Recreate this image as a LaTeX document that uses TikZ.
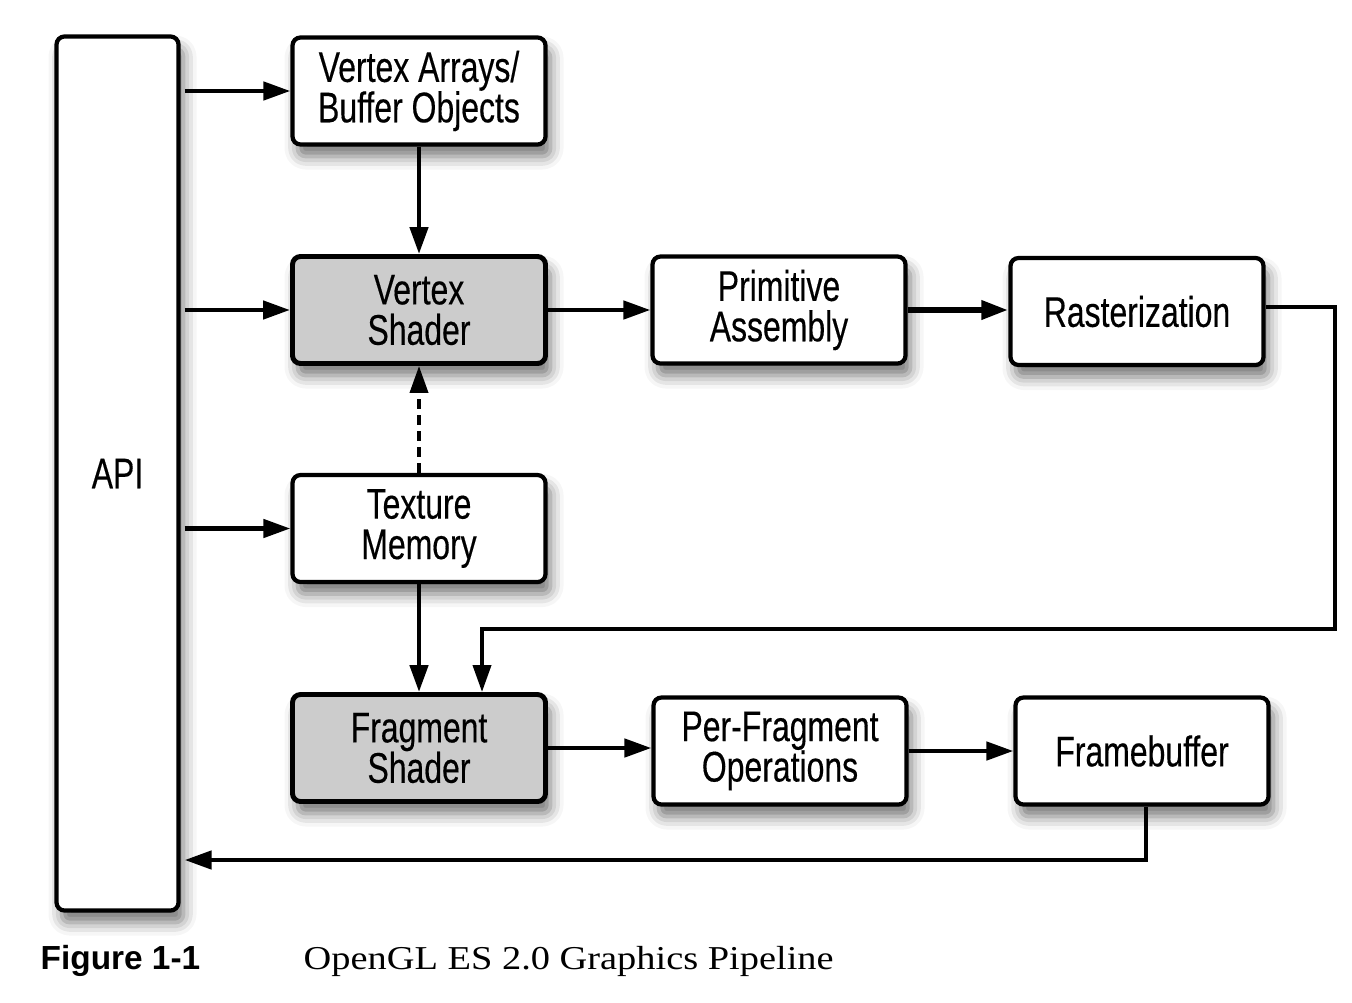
\documentclass[tikz,border=0pt]{standalone}
\usepackage{fontspec}
\setmainfont{Liberation Sans}
\newfontfamily\boxfont[FakeStretch=0.745, FakeBold=0.3]{Liberation Sans}
\newfontfamily\capfont[FakeStretch=1.15]{Liberation Serif}
\usetikzlibrary{arrows.meta,shadows.blur}

\tikzset{
	stage/.style={draw, line width=1.2pt, rounded corners=0.8mm, fill=white,
		minimum width=2.53cm, minimum height=1.07cm, align=center,
		font={\boxfont\fontsize{12.2pt}{11.5pt}\selectfont},
		blur shadow={shadow xshift=0.5mm, shadow yshift=-1.2mm, shadow blur radius=1.3mm, shadow opacity=55}},
	shader/.style={stage, fill=black!20, line width=1.4pt},
	arr/.style={line width=1.3pt, -{Triangle[length=2.7mm,width=1.8mm]}},
}

\begin{document}
\begin{tikzpicture}
		%%%%% START %%%%%
		\useasboundingbox (0, 0) rectangle (13.52, -10.02);
		
		\node[stage, minimum width=1.22cm, minimum height=8.74cm] (api) at (1.175, -4.735) {API};
		
		\node[stage] (va) at (4.19, -0.91) {Vertex Arrays/\\Buffer Objects};
		\node[shader] (vs) at (4.19, -3.10) {Vertex\\Shader};
		\node[stage] (tm) at (4.19, -5.285) {Texture\\Memory};
		\node[shader] (fs) at (4.19, -7.48) {Fragment\\Shader};
		
		\node[stage] (pa) at (7.79, -3.10) {Primitive\\Assembly};
		\node[stage] (rast) at (11.37, -3.115) {Rasterization};
		\node[stage] (pfo) at (7.80, -7.51) {Per-Fragment\\Operations};
		\node[stage] (fb) at (11.42, -7.51) {Framebuffer};
		
		\draw[arr, shorten <=0.4mm] (api.east |- va) -- (va);
		\draw[arr, shorten <=0.4mm] (api.east |- vs) -- (vs);
		\draw[arr, shorten <=0.4mm] (api.east |- tm) -- (tm);
		
		\draw[arr] (va) -- (vs);
		\draw[arr, line width=1.1pt, dash pattern=on 1mm off 0.6mm] (tm) -- (vs);
		\draw[arr] (tm) -- (fs);
		
		\draw[arr] (vs) -- (pa);
		\draw[arr, line width=1.8pt] (pa) -- (pa -| rast.west);
		\draw[arr] (fs) -- (fs -| pfo.west);
		\draw[arr] (pfo) -- (pfo -| fb.west);
		
		\coordinate (rastout) at (13.35, -6.29);
		\draw[arr, line width=1.1pt] ([yshift=0.045cm]rast.east) -| (rastout) -| ([xshift=0.63cm]fs.north);
		
		\coordinate (fbret) at (11.46, -8.60);
		\draw[arr, shorten >=0.4mm] (fbret |- fb.south) -- (fbret) -- (api.east |- fbret);
		
		\node[anchor=base west, inner sep=0pt, font={\bfseries\fontsize{9.5pt}{11pt}\selectfont}] (fignum) at (0.40, -9.69) {Figure 1-1};
		\node[anchor=base west, inner sep=0pt, font={\capfont\fontsize{9.5pt}{11pt}\selectfont}] (figtitle) at (3.03, -9.69) {OpenGL ES 2.0 Graphics Pipeline};
		%%%%% END %%%%%
	\end{tikzpicture}
\end{document}
